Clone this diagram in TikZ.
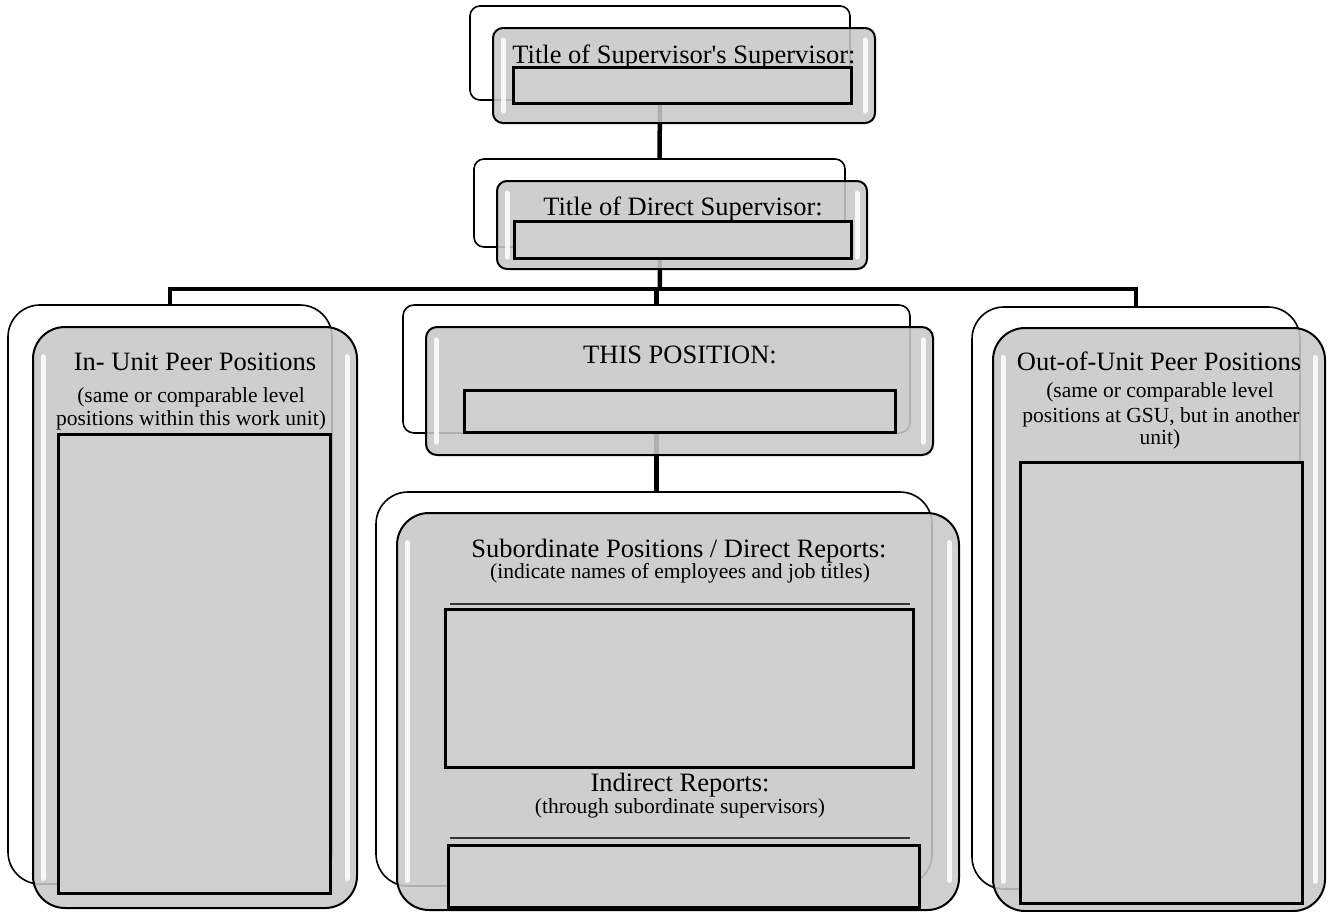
\documentclass[tikz,border=0pt]{standalone}
\usepackage{fontspec}
\setmainfont{Liberation Serif}
\usetikzlibrary{fit,backgrounds}

\definecolor{boxgray}{RGB}{200,200,200}
\definecolor{fieldgray}{RGB}{207,207,207}

\newcommand\headsize{\fontsize{26.5pt}{30pt}\selectfont}
\newcommand\notesize{\fontsize{21.5pt}{24pt}\selectfont}

\tikzset{
  backbox/.style={draw, line width=1.6pt, rounded corners=#1, fill=white, inner sep=0pt, outer sep=0pt},
  frontbox/.style={draw, line width=2pt, rounded corners=#1, fill=boxgray, fill opacity=0.88,
    inner sep=0pt, outer sep=0pt,
    path picture={
      \draw[shine] ([xshift=10pt,yshift=-0.8*#1-4pt]path picture bounding box.north west)
        -- ([xshift=10pt,yshift=0.8*#1+4pt]path picture bounding box.south west);
      \draw[shine] ([xshift=-10pt,yshift=-0.8*#1-4pt]path picture bounding box.north east)
        -- ([xshift=-10pt,yshift=0.8*#1+4pt]path picture bounding box.south east);
    }},
  shine/.style={white, line width=5pt, line cap=round, opacity=0.85},
  field/.style={draw, line width=3pt, fill=fieldgray, inner sep=0pt, outer sep=0pt},
  head/.style={font=\headsize, anchor=base, inner sep=0pt},
  note/.style={font=\notesize, anchor=base, inner sep=0pt},
  link/.style={line width=4.5pt},
  ruleline/.style={line width=1.2pt, black!80}
}

\begin{document}
\begin{tikzpicture}[x=1pt,y=-1pt]
  \useasboundingbox (0,0) rectangle (1333,911);

  % supervisor's supervisor
  \node[backbox=10pt, fit={(470,6) (850,100)}] (bossback) {};
  \node[frontbox=10pt, fit={(493,28) (875,123)}] (bossfront) {};
  \node[field, fit={(513,67) (851,103)}] (bossfield) {};
  \node[head] (bosstitle) at (684,63) {Title of Supervisor{\textquotesingle}s Supervisor:};

  % direct supervisor
  \node[backbox=10pt, fit={(474,159) (845,247)}] (supback) {};
  \node[frontbox=10pt, fit={(497,181) (867,269)}] (supfront) {};
  \node[field, fit={(514,221) (851,258)}] (supfield) {};
  \node[head] (suptitle) at (683,215) {Title of Direct Supervisor:};

  % in-unit peers
  \node[backbox=32pt, fit={(8,305) (332,884)}] (inback) {};
  \node[frontbox=32pt, fit={(33,327) (357,908)}] (infront) {};
  \node[field, fit={(58,434) (330,893)}] (infield) {};
  \node[head] (intitle) at (195,370) {In- Unit Peer Positions};
  \node[note] (innote1) at (191,402) {(same or comparable level};
  \node[note] (innote2) at (191,425) {positions within this work unit)};

  % this position
  \node[backbox=11pt, fit={(403,305) (910,433)}] (thisback) {};
  \node[frontbox=11pt, fit={(426,327) (933,455)}] (thisfront) {};
  \node[field, fit={(464,390) (895,432)}] (thisfield) {};
  \node[head] (thistitle) at (680,363) {THIS POSITION:};

  % subordinates
  \node[backbox=32pt, fit={(376,492) (932,886)}] (subback) {};
  \node[frontbox=32pt, fit={(397,513) (959,910)}] (subfront) {};
  \node[head] (subtitle) at (679,557) {Subordinate Positions / Direct Reports:};
  \node[note] (subnote) at (680,578) {(indicate names of employees and job titles)};
  \draw[ruleline] (450,604) -- (910,604);
  \node[field, fit={(445,609) (913,767)}] (subfield) {};
  \node[head] (indtitle) at (680,791) {Indirect Reports:};
  \node[note] (indnote) at (680,813) {(through subordinate supervisors)};
  \draw[ruleline] (450,838) -- (910,838);
  \node[field, fit={(448,845) (919,907)}] (indfield) {};

  % out-of-unit peers
  \node[backbox=32pt, fit={(972,307) (1300,889)}] (outback) {};
  \node[frontbox=32pt, fit={(993,328) (1325,911)}] (outfront) {};
  \node[field, fit={(1020,462) (1302,903)}] (outfield) {};
  \node[head] (outtitle) at (1159,370) {Out-of-Unit Peer Positions};
  \node[note] (outnote1) at (1160,397) {(same or comparable level};
  \node[note] (outnote2) at (1161,422) {positions at GSU, but in another};
  \node[note] (outnote3) at (1160,444) {unit)};

  % connectors, behind the boxes
  \begin{scope}[on background layer]
    \coordinate (bus) at (660,289);
    \draw[link] (bossback.center) -- (supback.center);
    \draw[link] (supback.center) -- (bus);
    \draw[link] (inback.north) |- (bus) -| (outback.north);
    \draw[link] (thisback.center |- bus) -- (thisback.center) -- (thisback.center |- subback.north);
  \end{scope}
\end{tikzpicture}
\end{document}
